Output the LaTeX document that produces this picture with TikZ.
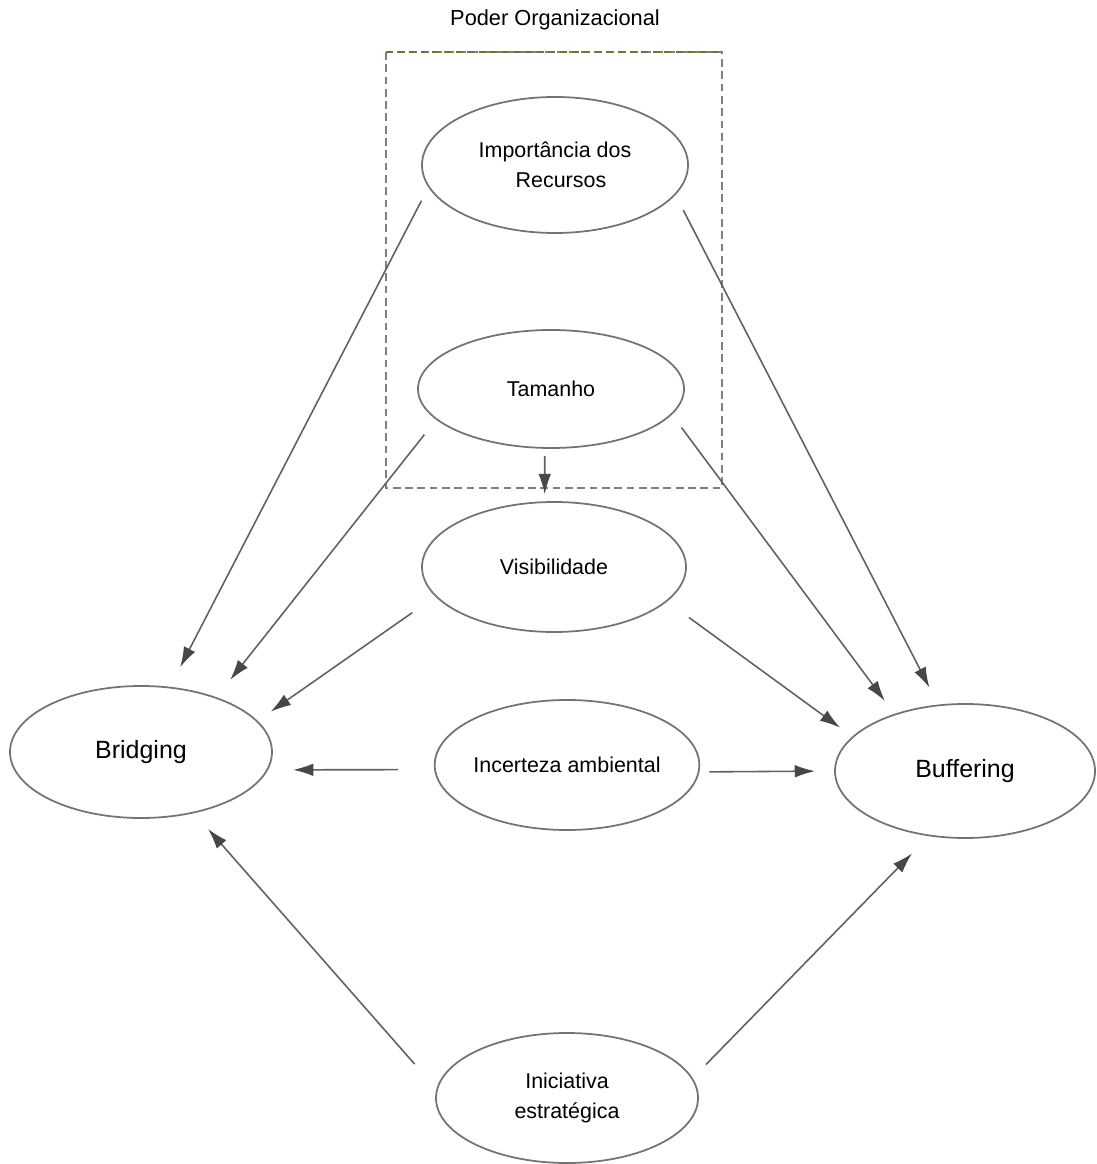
\documentclass[tikz,border=0pt]{standalone}
\usepackage{fontspec}
\setmainfont{Liberation Sans}
\usetikzlibrary{shapes.geometric,arrows.meta}

\begin{document}
\begin{tikzpicture}[>={Latex[length=5.8pt,width=3.6pt,color=black!72]},
    factor/.style={ellipse,draw=black!55,line width=0.5pt,inner sep=0pt,align=center,
      font=\fontsize{6.1}{8.4}\selectfont},
    outcome/.style={factor,font=\fontsize{7.1}{8.5}\selectfont},
    link/.style={->,draw=black!62,line width=0.45pt}]

              \useasboundingbox (0,0) rectangle (10.96,-11.64);

              % Title and dashed frame
              \node (title) at (5.55,-0.20) {\fontsize{6.2}{7.4}\selectfont Poder Organizacional};
              \draw [black!50,line width=0.45pt,dash pattern=on 2.2pt off 1.3pt] (3.86,-0.52) rectangle (7.22,-4.88);
              \draw [olive!60!green!70!black,line width=0.45pt,dash pattern=on 2pt off 1.3pt] (3.86,-0.52) -- (7.22,-0.52);

              % Ellipses
              \node[factor,minimum width=2.66cm,minimum height=1.36cm] (imp) at (5.55,-1.65) {Importância dos\\ \ \ Recursos};
              \node[factor,minimum width=2.66cm,minimum height=1.18cm] (tam) at (5.51,-3.89) {Tamanho};
              \node[factor,minimum width=2.64cm,minimum height=1.30cm] (vis) at (5.54,-5.67) {Visibilidade};
              \node[factor,minimum width=2.62cm,minimum height=1.30cm] (inc) at (5.67,-7.65) {Incerteza ambiental};
              \node[factor,minimum width=2.62cm,minimum height=1.30cm] (ini) at (5.67,-10.98) {Iniciativa\\ estratégica};
              \node[outcome,minimum width=2.62cm,minimum height=1.32cm] (bri) at (1.41,-7.52) {Bridging};
              \node[outcome,minimum width=2.60cm,minimum height=1.34cm] (buf) at (9.65,-7.71) {Buffering};

              % Arrows to Bridging
              \draw [link,shorten <=0.15cm,shorten >=0.22cm] (imp.190) -- (bri.66);
              \draw [link,shorten <=0.19cm,shorten >=0.22cm] (tam.195) -- (bri.36);
              \draw [link,shorten <=0.28cm,shorten >=0.16cm] (vis.194) -- (bri.15);
              \draw [link,shorten <=0.36cm,shorten >=0.25cm] (inc.182) -- (bri.352);
              \draw [link,shorten <=0.33cm,shorten >=0.21cm] (ini.176) -- (bri.311);

              % Arrows to Buffering
              \draw [link,shorten <=0.17cm,shorten >=0.19cm] (imp.346) -- (buf.112);
              \draw [link,shorten <=0.16cm,shorten >=0.16cm] (tam.348) -- (buf.141);
              \draw [link,shorten <=0.27cm,shorten >=0.15cm] (vis.343) -- (buf.163);
              \draw [link,shorten <=0.10cm,shorten >=0.19cm] (inc.357) -- (buf.west);
              \draw [link,shorten <=0.19cm,shorten >=0.24cm] (ini.9) -- (buf.241);

              % Tamanho to Visibilidade
              \draw [link,shorten <=0.07cm,shorten >=0.07cm] (tam.264) -- (vis.98);

        \end{tikzpicture}
\end{document}
